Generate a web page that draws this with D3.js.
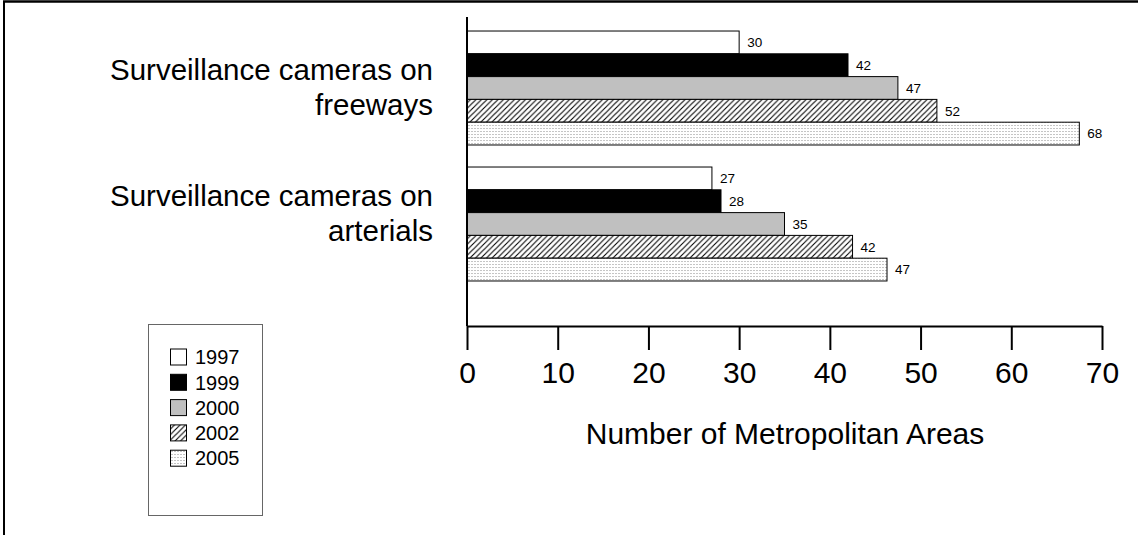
<!DOCTYPE html>
<html><head><meta charset="utf-8">
<script src="https://cdn.jsdelivr.net/npm/d3@7"></script>
<style>body{margin:0;background:#fff}svg{display:block;font-family:"Liberation Sans",Arial,sans-serif}</style>
</head><body><svg id="c" width="1138" height="535"></svg>
<script>
const categories = [["Surveillance cameras on","freeways"],["Surveillance cameras on","arterials"]];
const years = ["1997","1999","2000","2002","2005"];
const freewayValues = [30, 42, 47.5, 51.8, 67.5];
const arterialValues = [27, 28, 35, 42.5, 46.3];
const freewayLabels = ["30","42","47","52","68"];
const arterialLabels = ["27","28","35","42","47"];
const xTicks = [0,10,20,30,40,50,60,70];
const xTitle = "Number of Metropolitan Areas";

const svg = d3.select("#c");
const defs = svg.append("defs");
const hs = 5.5;
const hatch = defs.append("pattern").attr("id","hatch").attr("patternUnits","userSpaceOnUse")
  .attr("width",hs).attr("height",hs);
hatch.append("rect").attr("width",hs).attr("height",hs).attr("fill","#fff");
hatch.append("path").attr("d",`M-1,${hs+1} L${hs+1},-1 M${-hs/2},${hs/2} L${hs/2},${-hs/2} M${hs/2},${hs*1.5} L${hs*1.5},${hs/2}`).attr("stroke","#000").attr("stroke-width",1.1);
const dots = defs.append("pattern").attr("id","dots").attr("patternUnits","userSpaceOnUse")
  .attr("width",3).attr("height",3);
dots.append("rect").attr("width",3).attr("height",3).attr("fill","#fff");
dots.append("rect").attr("x",0).attr("y",1).attr("width",2).attr("height",1).attr("fill","#c4c4c4");

const fills = ["#ffffff","#000000","#c0c0c0","url(#hatch)","url(#dots)"];
const fillScale = d3.scaleOrdinal().domain(years).range(fills);

// frame
svg.append("line").attr("x1",3).attr("x2",1138).attr("y1",1.5).attr("y2",1.5).attr("stroke","#000").attr("stroke-width",2.5);
svg.append("line").attr("x1",4).attr("x2",4).attr("y1",1).attr("y2",535).attr("stroke","#000").attr("stroke-width",2);

const x = d3.scaleLinear().domain([0,70]).range([467,1102]);
const y = d3.scaleBand().domain([0,1]).range([20,292]).paddingInner(0.162).paddingOuter(0.081);
const yi = d3.scaleBand().domain(years).range([0,y.bandwidth()]);

const data = [freewayValues, arterialValues];
const labels = [freewayLabels, arterialLabels];
const labelShift = [-8, -18];

data.forEach((vals,ci)=>{
  const g = svg.append("g").attr("transform",`translate(0,${y(ci)})`);
  g.selectAll("rect").data(vals).join("rect")
    .attr("x",x(0)).attr("y",(d,i)=>yi(years[i]))
    .attr("width",d=>x(d)-x(0)).attr("height",yi.bandwidth())
    .attr("fill",(d,i)=>fillScale(years[i])).attr("stroke","#000").attr("stroke-width",1);
  g.selectAll("text").data(vals).join("text")
    .attr("x",d=>x(d)+8).attr("y",(d,i)=>yi(years[i])+yi.bandwidth()/2)
    .attr("dy","0.35em").attr("font-size",13.5).text((d,i)=>labels[ci][i]);
  const cl = svg.append("text").attr("text-anchor","end").attr("font-size",29.5);
  const cy = y(ci)+y.bandwidth()/2 + labelShift[ci];
  cl.append("tspan").attr("x",433).attr("y",cy).text(categories[ci][0]);
  cl.append("tspan").attr("x",433).attr("y",cy+35).text(categories[ci][1]);
});

// y axis line
svg.append("line").attr("x1",x(0)).attr("x2",x(0)).attr("y1",17).attr("y2",326).attr("stroke","#000").attr("stroke-width",2);

const xAxis = d3.axisBottom(x).tickValues(xTicks).tickSize(24).tickPadding(12).tickSizeOuter(0);
const ga = svg.append("g").attr("transform","translate(0,326)").call(xAxis);
ga.select(".domain").attr("stroke-width",2);
ga.selectAll(".tick line").attr("stroke-width",2);
ga.selectAll(".tick text").attr("font-size",30).attr("font-family","Liberation Sans, Arial, sans-serif").attr("fill","#000");

svg.append("text").attr("x",785).attr("y",444).attr("text-anchor","middle").attr("font-size",30).text(xTitle);

// legend
const lg = svg.append("g");
lg.append("rect").attr("x",148.5).attr("y",324.5).attr("width",114).attr("height",191).attr("fill","#fff").attr("stroke","#666").attr("stroke-width",1);
years.forEach((yr,i)=>{
  const cy = 357 + i*25.3;
  lg.append("rect").attr("x",170.5).attr("y",cy-8).attr("width",16).attr("height",16)
    .attr("fill",fillScale(yr)).attr("stroke","#000").attr("stroke-width",1);
  lg.append("text").attr("x",195).attr("y",cy).attr("dy","0.36em").attr("font-size",20).text(yr);
});
</script></body></html>
